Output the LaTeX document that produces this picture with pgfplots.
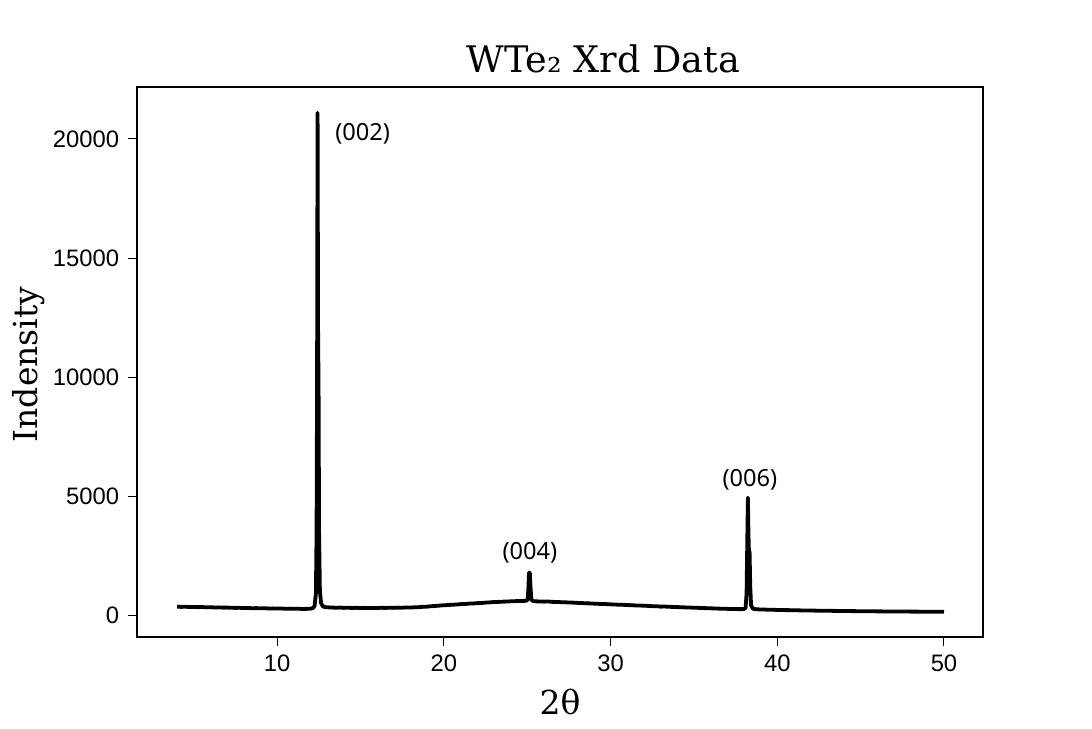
\documentclass[border=0pt]{standalone}
\usepackage{pgfplots}
\pgfplotsset{compat=1.18}
\usepackage{fontspec}
\setmainfont{DejaVu Serif}
\newfontfamily\tickfont{Liberation Sans}
\newfontfamily\annfont{Noto Sans}
\newfontfamily\serifont{DejaVu Serif}
\begin{document}
\begin{tikzpicture}
\useasboundingbox (0,0) rectangle (546bp,364.5bp);
\begin{axis}[
  at={(68.5bp,46bp)}, anchor=south west,
  scale only axis, width=423bp, height=275bp,
  xmin=1.6, xmax=52.34, ymin=-924, ymax=22185,
  xtick={10,20,30,40,50}, ytick={0,5000,10000,15000,20000},
  xtick pos=bottom, ytick pos=left, tick align=outside,
  major tick length=4.4bp,
  every tick/.style={line width=0.5bp, black},
  axis line style={line width=0.6bp},
  /pgf/number format/1000 sep={},
  /pgf/number format/assume math mode=true,
  tick label style={font=\tickfont\fontsize{11.9bp}{13bp}\selectfont},
  xticklabel style={yshift=-1bp},
  yticklabel style={xshift=-1bp},
  scaled y ticks=false,
  clip=true,
]
\addplot[black, line width=1.9bp, line join=round] table {
4.00 352
4.25 340
4.50 348
4.75 335
5.00 338
5.25 330
5.50 336
5.75 322
6.00 325
6.25 318
6.50 320
6.75 310
7.00 312
7.25 305
7.50 298
7.75 304
8.00 292
8.25 296
8.50 285
8.75 290
9.00 280
9.25 284
9.50 275
9.75 278
10.00 270
10.25 274
10.50 262
10.75 268
11.00 260
11.25 264
11.50 255
11.75 258
12.00 265
12.15 290
12.25 380
12.33 900
12.37 3500
12.40 9800
12.43 21100
12.46 12000
12.49 9500
12.52 3500
12.57 1000
12.64 500
12.75 360
12.90 330
13.10 320
13.25 318
13.50 305
13.75 312
14.00 300
14.25 306
14.50 296
14.75 302
15.00 295
15.25 300
15.50 292
15.75 298
16.00 296
16.25 302
16.50 298
16.75 305
17.00 300
17.25 310
17.50 306
17.75 318
18.00 312
18.25 325
18.50 330
18.75 345
19.00 352
19.25 370
19.50 380
19.75 395
20.00 410
20.25 418
20.50 432
20.75 440
21.00 456
21.25 462
21.50 478
21.75 485
22.00 498
22.25 505
22.50 520
22.75 530
23.00 545
23.25 548
23.50 560
23.75 565
24.00 575
24.25 580
24.50 592
24.75 588
24.95 600
25.03 650
25.08 1200
25.11 1780
25.16 1780
25.20 1200
25.25 650
25.35 590
25.50 575
25.75 570
26.00 562
26.25 568
26.50 552
26.75 548
27.00 540
27.25 535
27.50 526
27.75 520
28.00 510
28.25 505
28.50 492
28.75 488
29.00 478
29.25 470
29.50 462
29.75 458
30.00 448
30.25 442
30.50 430
30.75 428
31.00 420
31.25 412
31.50 402
31.75 398
32.00 390
32.25 382
32.50 372
32.75 370
33.00 352
33.25 356
33.50 345
33.75 340
34.00 332
34.25 328
34.50 318
34.75 315
35.00 305
35.25 300
35.50 292
35.75 288
36.00 280
36.25 276
36.50 268
36.75 265
37.00 258
37.25 255
37.50 250
37.75 246
38.00 250
38.10 300
38.16 900
38.20 3000
38.24 4930
38.27 3500
38.30 2700
38.34 2650
38.38 1200
38.43 400
38.55 260
38.80 240
39.00 232
39.25 228
39.50 222
39.75 220
40.00 212
40.25 210
40.50 205
40.75 204
41.00 198
41.25 196
41.50 192
41.75 190
42.00 186
42.25 185
42.50 180
42.75 180
43.00 176
43.25 175
43.50 171
43.75 170
44.00 167
44.25 166
44.50 163
44.75 162
45.00 160
45.25 158
45.50 156
45.75 155
46.00 153
46.25 152
46.50 150
46.75 149
47.00 148
47.25 146
47.50 145
47.75 144
48.00 143
48.25 142
48.50 141
48.75 140
49.00 139
49.25 138
49.50 137
49.75 136
50.00 135
};
\node[font=\annfont\fontsize{11.8bp}{13bp}\selectfont] at (axis cs:15.13,20230) {(002)};
\node[font=\annfont\fontsize{11.8bp}{13bp}\selectfont] at (axis cs:25.17,2605) {(004)};
\node[font=\annfont\fontsize{11.8bp}{13bp}\selectfont] at (axis cs:38.36,5672) {(006)};
\end{axis}
\node[anchor=base, font=\serifont\fontsize{18.3bp}{20bp}\selectfont] at (301.75bp,328bp) {WTe₂ Xrd Data};
\node[anchor=base, font=\serifont\fontsize{16.5bp}{18bp}\selectfont] at (280bp,7.5bp) {2θ};
\node[anchor=base, rotate=90, font=\serifont\fontsize{16.5bp}{18bp}\selectfont] at (18.5bp,182.25bp) {Indensity};
\end{tikzpicture}
\end{document}
